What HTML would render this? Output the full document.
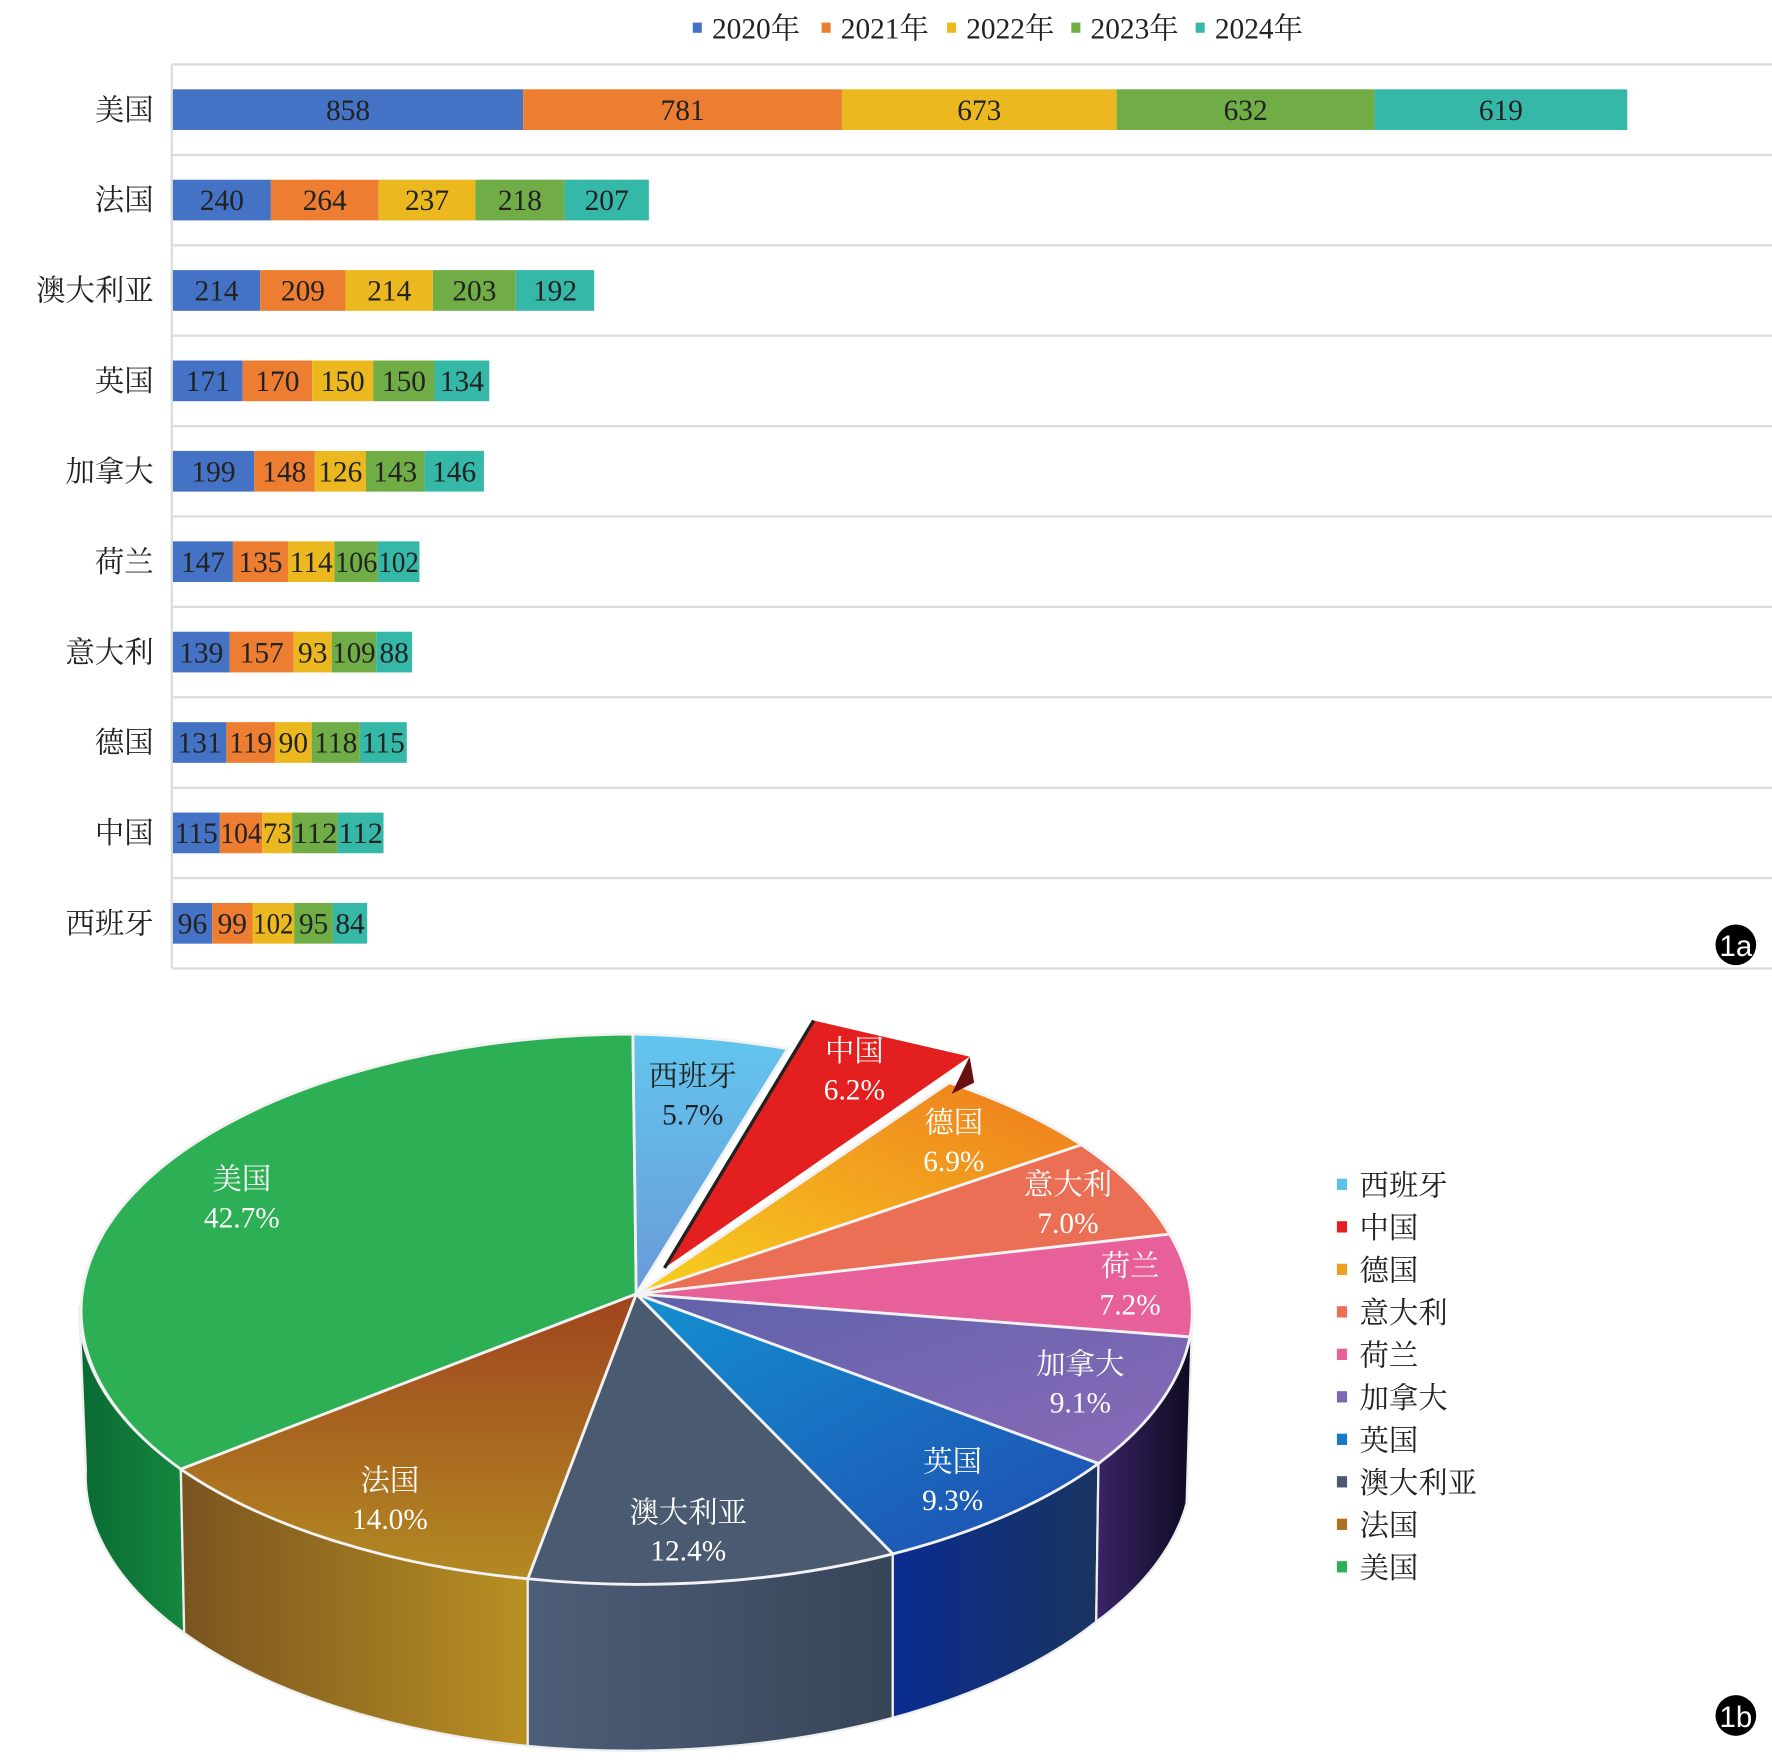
<!DOCTYPE html>
<html><head><meta charset="utf-8"><style>
html,body{margin:0;padding:0;background:#fff;}
svg{display:block;font-family:"Liberation Serif","Noto Serif CJK SC","Noto Sans CJK SC",serif;}
</style></head><body>
<svg id="s" width="1772" height="1763" viewBox="0 0 1568 1560" xmlns="http://www.w3.org/2000/svg">
<defs>
<linearGradient id="gUSs" x1="0" x2="1"><stop offset="0" stop-color="#0a6a32"/><stop offset="1" stop-color="#14873f"/></linearGradient>
<linearGradient id="gFRs" x1="0" x2="1"><stop offset="0" stop-color="#7a5420"/><stop offset="1" stop-color="#b89022"/></linearGradient>
<linearGradient id="gAUs" x1="0" x2="1"><stop offset="0" stop-color="#4e5e78"/><stop offset="1" stop-color="#374558"/></linearGradient>
<linearGradient id="gUKs" x1="0" x2="1"><stop offset="0" stop-color="#0a2c90"/><stop offset="1" stop-color="#1a3460"/></linearGradient>
<linearGradient id="gCAs" x1="0" x2="1"><stop offset="0" stop-color="#3a2468"/><stop offset="1" stop-color="#0e0a20"/></linearGradient>
<linearGradient id="gDE" x1="0" y1="1" x2="1" y2="0"><stop offset="0" stop-color="#f7d11f"/><stop offset="1" stop-color="#ee7a1e"/></linearGradient>
<linearGradient id="gES" x1="0" y1="1" x2="0" y2="0"><stop offset="0" stop-color="#6a9ad8"/><stop offset="1" stop-color="#62c6ee"/></linearGradient>
<linearGradient id="gUK" x1="0" y1="0" x2="1" y2="1"><stop offset="0" stop-color="#1390d0"/><stop offset="1" stop-color="#1f4cb0"/></linearGradient>
<linearGradient id="gFR" x1="0" y1="0" x2="0" y2="1"><stop offset="0" stop-color="#a0441e"/><stop offset="1" stop-color="#b28a22"/></linearGradient>
<linearGradient id="gCA" x1="0" y1="0" x2="1" y2="1"><stop offset="0" stop-color="#5e62aa"/><stop offset="1" stop-color="#8a6ab8"/></linearGradient>
</defs>
<g id="bars"></g>
<!-- pie sides -->
<g stroke="#eee" stroke-width="2">
<path d="M70,1155 A492,245 0 0 0 160,1300 L163,1445 A492,245 0 0 1 76,1300 Z" fill="url(#gUSs)"/>
<path d="M160,1300 A492,245 0 0 0 467,1397 L467,1545 A492,245 0 0 1 163,1445 Z" fill="url(#gFRs)"/>
<path d="M467,1397 A492,245 0 0 0 790,1375 L790,1520 A492,245 0 0 1 467,1545 Z" fill="url(#gAUs)"/>
<path d="M790,1375 A492,245 0 0 0 972,1295 L970,1435 A492,245 0 0 1 790,1520 Z" fill="url(#gUKs)"/>
<path d="M972,1295 A492,245 0 0 0 1055,1160 L1050,1330 A492,245 0 0 1 970,1435 Z" fill="url(#gCAs)"/>
</g>
<!-- pie top -->
<g stroke="#f2f2f2" stroke-width="2.5">
<path d="M563,1145 L160,1300 A492,245 0 0 1 560,915 Z" fill="#2daf55"/>
<path d="M563,1145 L560,915 A492,245 0 0 1 697,928 Z" fill="url(#gES)"/>
<path d="M563,1145 L840,958 A492,245 0 0 1 957,1013 Z" fill="url(#gDE)"/>
<path d="M563,1145 L957,1013 A492,245 0 0 1 1035,1092 Z" fill="#eb6f55"/>
<path d="M563,1145 L1035,1092 A492,245 0 0 1 1053,1183 Z" fill="#e7609a"/>
<path d="M563,1145 L1053,1183 A492,245 0 0 1 972,1295 Z" fill="url(#gCA)"/>
<path d="M563,1145 L972,1295 A492,245 0 0 1 790,1375 Z" fill="url(#gUK)"/>
<path d="M563,1145 L790,1375 A492,245 0 0 1 467,1397 Z" fill="#4a5a70"/>
<path d="M563,1145 L467,1397 A492,245 0 0 1 160,1300 Z" fill="url(#gFR)"/>
</g>
<path d="M858,935 L862,958 L842,968 Z" fill="#6a1010"/>
<path d="M588,1122 L720,903 L858,935 Z" fill="#e3201f"/>
<path d="M588,1122 L720,903" stroke="#222" stroke-width="3"/>
<g fill="#fff" font-size="26" text-anchor="middle">
<text x="214" y="1052">美国</text><text x="214" y="1086">42.7%</text>
<text x="345" y="1319">法国</text><text x="345" y="1353">14.0%</text>
<text x="609" y="1347">澳大利亚</text><text x="609" y="1381">12.4%</text>
<text x="843" y="1302">英国</text><text x="843" y="1336">9.3%</text>
<text x="956" y="1216">加拿大</text><text x="956" y="1250">9.1%</text>
<text x="1000" y="1129">荷兰</text><text x="1000" y="1163">7.2%</text>
<text x="945" y="1057">意大利</text><text x="945" y="1091">7.0%</text>
<text x="844" y="1002">德国</text><text x="844" y="1036">6.9%</text>
<text x="756" y="939">中国</text><text x="756" y="973">6.2%</text>
</g>
<g fill="#222" font-size="26" text-anchor="middle"><text x="613" y="961">西班牙</text><text x="613" y="995">5.7%</text></g>
<g id="leg" font-size="26" fill="#222"></g>
<circle cx="1536" cy="836" r="18" fill="#000"/><text x="1536" y="846" fill="#fff" font-size="26" text-anchor="middle" font-family="Liberation Sans,sans-serif">1a</text>
<circle cx="1536" cy="1518" r="18" fill="#000"/><text x="1536" y="1528" fill="#fff" font-size="26" text-anchor="middle" font-family="Liberation Sans,sans-serif">1b</text>
</svg>
<script>
var NS="http://www.w3.org/2000/svg";
function el(p,t,a,txt){var e=document.createElementNS(NS,t);for(var k in a)e.setAttribute(k,a[k]);if(txt!=null)e.textContent=txt;p.appendChild(e);return e;}
var g=document.getElementById("bars");
var cols=["#4472c4","#ed7d31","#ebb820","#70ad47","#36b8a8"];
for(var i=0;i<=10;i++)el(g,"line",{x1:152,x2:1568,y1:57+80*i,y2:57+80*i,stroke:"#dcdcdc","stroke-width":2});
el(g,"line",{x1:152,x2:152,y1:57,y2:857,stroke:"#dcdcdc","stroke-width":2});
var data=[["美国",858,781,673,632,619],["法国",240,264,237,218,207],["澳大利亚",214,209,214,203,192],["英国",171,170,150,150,134],["加拿大",199,148,126,143,146],["荷兰",147,135,114,106,102],["意大利",139,157,93,109,88],["德国",131,119,90,118,115],["中国",115,104,73,112,112],["西班牙",96,99,102,95,84]];
var k=0.3612;
data.forEach(function(r,i){var cy=97+80*i;var x=153;
el(g,"text",{x:136,y:cy+9,"font-size":26,"text-anchor":"end",fill:"#222"},r[0]);
for(var j=1;j<6;j++){var w=r[j]*k;el(g,"rect",{x:x,y:cy-18,width:w,height:36,fill:cols[j-1]});
var s=String(r[j]);var nat=s.length*13;var a={x:x+w/2,y:cy+9,"font-size":26,"text-anchor":"middle",fill:"#222"};
if(w<nat+2){a.textLength=(w-1).toFixed(1);a.lengthAdjust="spacingAndGlyphs";}
el(g,"text",a,s);x+=w;}
});
var lx=[617,731,842,952,1062],yrs=["2020年","2021年","2022年","2023年","2024年"];
lx.forEach(function(x,i){el(g,"rect",{x:x-4,y:20,width:8,height:9,fill:cols[i]});el(g,"text",{x:x+13,y:34,"font-size":26,fill:"#222"},yrs[i]);});
var lg=document.getElementById("leg");
var ln=["西班牙","中国","德国","意大利","荷兰","加拿大","英国","澳大利亚","法国","美国"];
var lc=["#5bc0ea","#e3201f","#f0a020","#eb6f55","#e7609a","#7a68b0","#1a78c8","#4a5a70","#b07020","#2daf55"];
ln.forEach(function(n,i){var y=1049+37.6*i;el(lg,"rect",{x:1183,y:y-6,width:9,height:10,fill:lc[i]});el(lg,"text",{x:1203,y:y+9},n);});
</script>
</body></html>
